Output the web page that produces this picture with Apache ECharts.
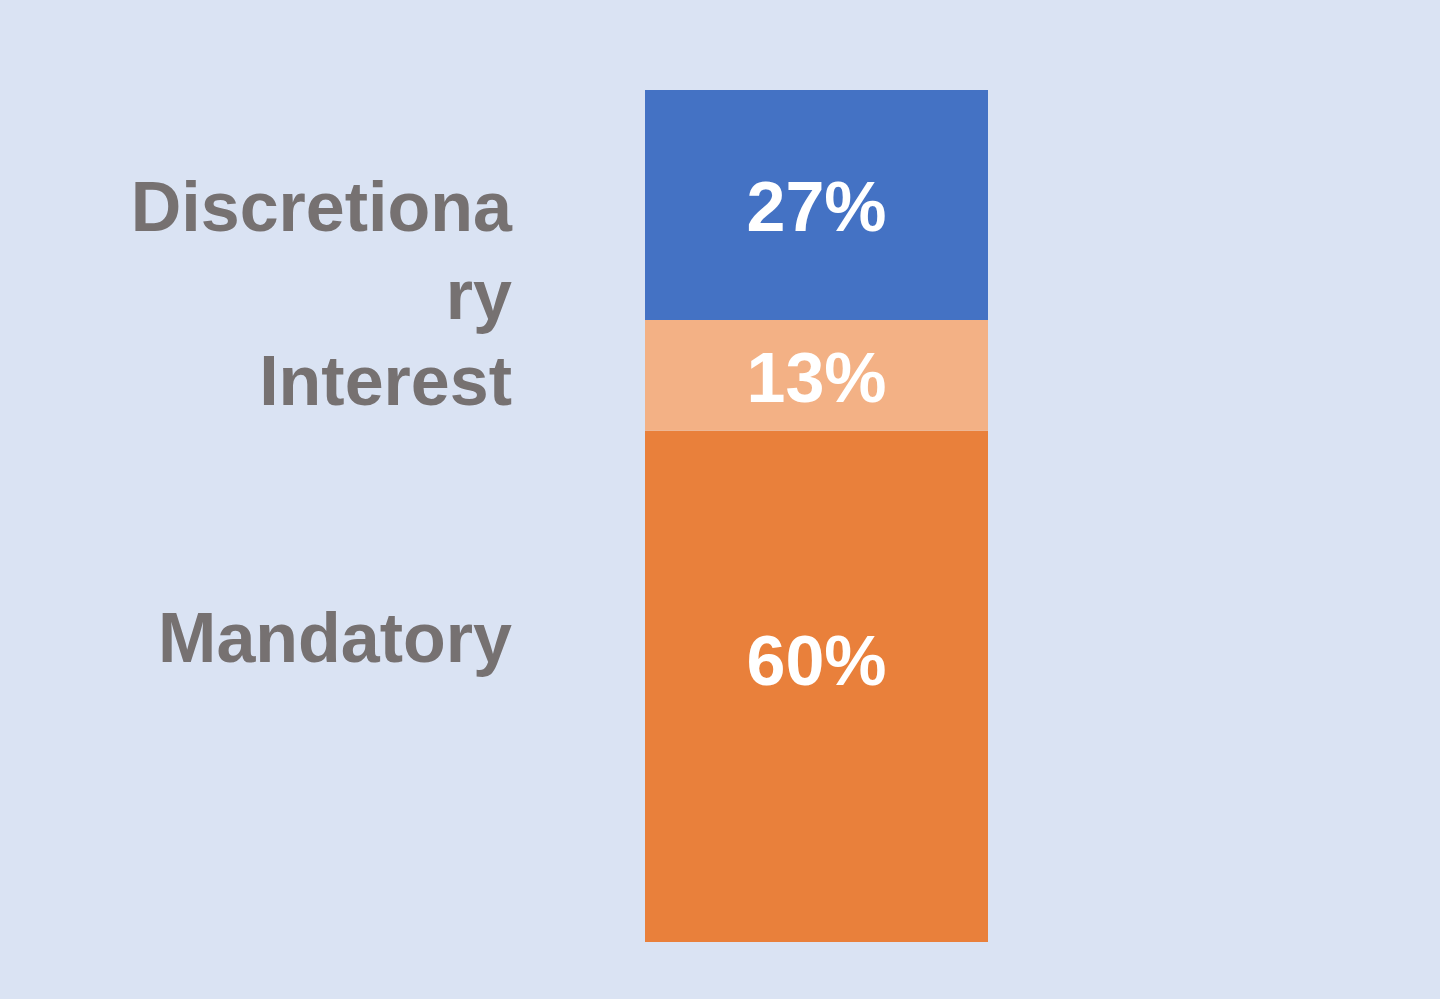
<!DOCTYPE html>
<html>
<head>
<meta charset="utf-8">
<script src="https://cdn.jsdelivr.net/npm/echarts@6/dist/echarts.min.js"></script>
<style>
  html, body { margin: 0; padding: 0; background: #DAE3F3; }
  #main { width: 1440px; height: 999px; }
</style>
</head>
<body>
<div id="main"></div>
<script>
// segments, bottom to top
var segmentNames = ['Mandatory', 'Interest', 'Discretionary'];
var segmentValues = [60, 13, 27];
var segmentColors = ['#E9803B', '#F3B185', '#4472C4'];
var category = ['Budget'];

// small nudges so the labels sit where the original put them
var pctOffsets = [[0, -21], [0, 7], [0, 7]];
var nameOffsets = [[0, -44], [0, 10], [0, 51]];

var myChart = echarts.init(document.getElementById('main'));

var series = [];
for (var i = 0; i < segmentNames.length; i++) {
    series.push({
        name: segmentNames[i],
        type: 'bar',
        stack: 'total',
        barWidth: 343,
        data: [segmentValues[i]],
        itemStyle: { color: segmentColors[i] },
        label: {
            show: true,
            position: 'inside',
            offset: pctOffsets[i],
            formatter: '{c}%',
            color: '#ffffff',
            fontFamily: 'Liberation Sans, Arial, sans-serif',
            fontWeight: 'bold',
            fontSize: 70
        }
    });
}
// invisible twin stack that carries the names on the left
for (var i = 0; i < segmentNames.length; i++) {
    series.push({
        name: segmentNames[i] + ' label',
        type: 'bar',
        stack: 'names',
        barWidth: 343,
        barGap: '-100%',
        silent: true,
        data: [segmentValues[i]],
        itemStyle: { color: 'rgba(0,0,0,0)' },
        label: {
            show: true,
            position: 'left',
            distance: 133,
            offset: nameOffsets[i],
            formatter: segmentNames[i],
            color: '#767171',
            fontFamily: 'Liberation Sans, Arial, sans-serif',
            fontWeight: 'bold',
            fontSize: 70,
            lineHeight: 88,
            width: 392,
            overflow: 'breakAll',
            align: 'right'
        }
    });
}

var option = {
    backgroundColor: '#DAE3F3',
    animation: false,
    grid: { left: 645, right: 452, top: 90, bottom: 57 },
    xAxis: {
        type: 'category',
        data: category,
        show: false
    },
    yAxis: {
        type: 'value',
        min: 0,
        max: 100,
        show: false
    },
    series: series
};
myChart.setOption(option);
</script>
</body>
</html>
